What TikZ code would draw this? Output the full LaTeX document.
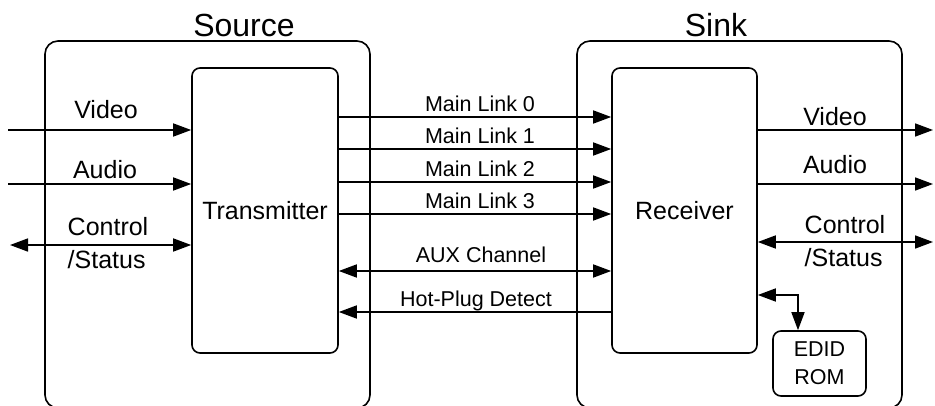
\documentclass[tikz,border=0pt]{standalone}
\usepackage{fontspec}
\setmainfont{Liberation Sans}
\usetikzlibrary{arrows.meta,positioning}

\begin{document}
\begin{tikzpicture}[x=1pt, y=-1pt,
    outer/.style={rectangle, draw, line width=1.6pt, rounded corners=13pt, inner sep=0pt},
    block/.style={rectangle, draw, line width=1.6pt, rounded corners=8pt, inner sep=0pt,
                  font=\fontsize{25}{30}\selectfont},
    lbl/.style={anchor=base, inner sep=0pt, font=\fontsize{25}{33}\selectfont},
    twoline/.style={inner sep=0pt, align=left, font=\fontsize{25}{33}\selectfont},
    small/.style={anchor=base, inner sep=0pt, font=\fontsize{21.5}{28}\selectfont},
    title/.style={anchor=base, inner sep=0pt, font=\fontsize{32}{36}\selectfont},
    arr/.style={-{Triangle[length=18pt, width=13pt]}, line width=1.6pt},
    darr/.style={{Triangle[length=18pt, width=13pt]}-{Triangle[length=18pt, width=13pt]}, line width=1.6pt}
]
    \useasboundingbox (0,0) rectangle (935,405);

    % Source side
    \node[outer, minimum width=325pt, minimum height=367pt] (src) at (207.5,224.5) {};
    \node[title] (srcname) at (244,36) {Source};
    \node[block, minimum width=146pt, minimum height=285pt] (tx) at (265,210.5) {Transmitter};

    % Sink side
    \node[outer, minimum width=325pt, minimum height=367pt] (snk) at (739.5,224.5) {};
    \node[title] (snkname) at (716,36) {Sink};
    \node[block, minimum width=145pt, minimum height=285pt] (rx) at (684.5,210.5) {Receiver};
    \node[block, align=center, minimum width=93pt, minimum height=65pt,
          font=\fontsize{21.5}{28}\selectfont] (edid) at (819.5,363.5) {EDID\\ROM};

    % Inputs to the transmitter
    \coordinate (vin) at (8,130);
    \coordinate (ain) at (8,184);
    \coordinate (cin) at (10,245);
    \draw[arr] (vin) -- (tx.west |- vin);
    \draw[arr] (ain) -- (tx.west |- ain);
    \draw[darr] (cin) -- (tx.west |- cin);
    \node[lbl] (vinlbl) at (106,118) {Video};
    \node[lbl] (ainlbl) at (105,178) {Audio};
    \node[twoline] (cinlbl) at (108,243) {Control\\/Status};

    % Main links
    \foreach \i/\y in {0/117,1/149,2/182,3/214}{
        \draw[arr] (tx.east |- 0,\y) -- (rx.west |- 0,\y);
        \node[small] (ml\i) at (480,\y-6) {Main Link \i};
    }

    % AUX and hot-plug
    \draw[darr] (tx.east |- 0,271) -- (rx.west |- 0,271);
    \node[small] (auxlbl) at (481,262) {AUX Channel};
    \draw[arr] (rx.west |- 0,312) -- (tx.east |- 0,312);
    \node[small] (hpdlbl) at (476,306) {Hot-Plug Detect};

    % Outputs of the receiver
    \coordinate (vout) at (933,130);
    \coordinate (aout) at (933,184);
    \coordinate (cout) at (933,242);
    \draw[arr] (rx.east |- vout) -- (vout);
    \draw[arr] (rx.east |- aout) -- (aout);
    \draw[darr] (rx.east |- cout) -- (cout);
    \node[lbl] (voutlbl) at (835,125) {Video};
    \node[lbl] (aoutlbl) at (835,173) {Audio};
    \node[twoline] (coutlbl) at (845,241) {Control\\/Status};

    % EDID access
    \draw[darr] (rx.east |- 0,295) -| ([xshift=-21.5pt]edid.north);
\end{tikzpicture}
\end{document}
